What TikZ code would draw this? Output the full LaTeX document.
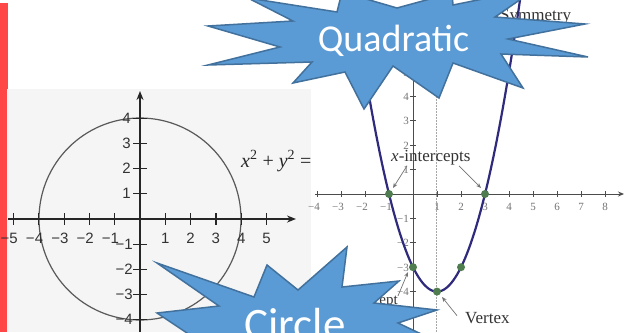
\documentclass[tikz,border=0pt]{standalone}
\usepackage{fontspec}
\setmainfont{Liberation Serif}
\setsansfont{Liberation Sans}
\newfontfamily\starfont{Carlito}
\usetikzlibrary{arrows.meta}
\definecolor{starfill}{RGB}{91,155,213}
\definecolor{starline}{RGB}{65,113,156}
\definecolor{redbar}{RGB}{255,71,71}
\definecolor{panelgray}{RGB}{245,245,245}
\definecolor{navy}{RGB}{48,42,125}
\definecolor{dotgreen}{RGB}{80,125,80}
\begin{document}
\begin{tikzpicture}[x=1pt,y=-1pt,
  star/.style={fill=starfill, draw=starline, line width=1.5pt, line join=miter},
  startext/.style={text=white, inner sep=0pt, anchor=base},
  circlab/.style={font=\sffamily\fontsize{15}{15}\selectfont, text=black!80, inner sep=0pt},
  axisC/.style={line width=1.6pt, black!85},
  tickC/.style={line width=1.2pt, black!85},
  circline/.style={line width=1.2pt, black!65},
  parlab/.style={font=\fontsize{11}{11}\selectfont, text=black!55, inner sep=0pt},
  axisP/.style={line width=0.9pt, black!70},
  note/.style={font=\fontsize{17}{17}\selectfont, text=black!80, inner sep=0pt},
  notearrow/.style={-{Stealth[length=5pt,width=4pt]}, black!55, line width=0.7pt},
  gdot/.style={circle, fill=dotgreen, minimum size=8pt, inner sep=0pt},
]
\useasboundingbox (0,0) rectangle (631,332);
\clip (0,0) rectangle (631,332);
\fill[white] (0,0) rectangle (631,332);

% ---------- circle panel ----------
\fill[panelgray] (7,89) rectangle (311,332);
\fill[redbar] (0,3) rectangle (8,89);
\fill[redbar] (0,89) rectangle (7,332);

\draw[circline] (140,219) circle[radius=101pt];
\draw[axisC, -{Stealth[length=9pt,width=7pt]}] (8,219) -- (296,219);
\draw[axisC, -{Stealth[length=9pt,width=7pt]}] (140,332) -- (140,91);
\foreach \i in {-5,-4,-3,-2,-1,1,2,3,4,5}
  \draw[tickC] ({140+25.3*\i},213) -- ({140+25.3*\i},225);
\foreach \j in {-4,-3,-2,-1,1,2,3,4}
  \draw[tickC] (133,{219-25.2*\j}) -- (147,{219-25.2*\j});
\foreach \i in {1,...,5}{
  \node[circlab, anchor=base] (cxp\i) at ({140+25.3*\i},243) {\i};
  \node[circlab, anchor=base east] (cxn\i) at ({140-25.3*\i+4.5},243) {−\i};
}
\foreach \j in {1,...,4}{
  \node[circlab, anchor=base east] (cyp\j) at (131,{219-25.2*\j+5}) {\j};
  \node[circlab, anchor=base east] (cyn\j) at (133,{219+25.2*\j+5}) {−\j};
}
\node[font=\fontsize{20}{20}\selectfont, anchor=base west, inner sep=0pt, text=black!85] (eqn) at (241,167) {\textit{x}\textsuperscript{2} + \textit{y}\textsuperscript{2} = 16};

% ---------- parabola panel ----------
\fill[white] (311,0) rectangle (631,332);
\draw[black!35, dash pattern=on 1.5pt off 1.5pt, line width=0.6pt] (436,0) -- (436,332);
\draw[axisP, -{Stealth[length=6pt,width=5pt]}] (315,194) -- (624,194);
\draw[axisP, -{Stealth[length=6pt,width=5pt]}] (413,332) -- (413,30);
\foreach \i in {-4,-3,-2,-1,1,2,3,4,5,6,7,8}
  \draw[axisP] ({413+24*\i},191) -- ({413+24*\i},197);
\foreach \j in {-5,-4,-3,-2,-1,1,2,3,4,5}
  \draw[axisP] (410,{194-24.4*\j}) -- (416,{194-24.4*\j});
\foreach \i in {1,...,8}
  \node[parlab, anchor=base] (pxp\i) at ({413+24*\i},210) {\i};
\foreach \i in {1,...,4}
  \node[parlab, anchor=base east] (pxn\i) at ({413-24*\i+3},210) {−\i};
\foreach \j in {1,...,5}{
  \node[parlab, anchor=base east] (pyp\j) at (409,{194-24.4*\j+4}) {\j};
  \node[parlab, anchor=base east] (pyn\j) at (409,{194+24.4*\j+4}) {−\j};
}
\draw[navy, line width=2.2pt] plot[domain=-2.55:4.55, samples=90, smooth] ({413+24*\x},{194-24.4*((\x-1)^2-4)});

\node[gdot] (ptA) at (389,194) {};
\node[gdot] (ptB) at (485,194) {};
\node[gdot] (ptC) at (413,267.2) {};
\node[gdot] (ptD) at (461,267.2) {};
\node[gdot] (ptV) at (437,291.6) {};

\node[note, anchor=base west] (xint) at (391,161) {\textit{x}-intercepts};
\node[note, anchor=base west] (vtx) at (465,323) {Vertex};
\node[note, anchor=base east, font=\fontsize{15}{15}\selectfont] (yint) at (398,304) {\textit{y}-intercept};
\node[note, anchor=base west] (sym) at (500,20) {Symmetry};

\coordinate (aA) at (393,188);
\coordinate (aB) at (481,188);
\coordinate (aV) at (442,297);
\coordinate (aC) at (408,272);
\draw[notearrow] ([xshift=16pt,yshift=-1pt]xint.south west) -- (aA);
\draw[notearrow] ([xshift=68pt,yshift=-1pt]xint.south west) -- (aB);
\draw[notearrow] ([xshift=-8pt,yshift=-4pt]vtx.north west) -- (aV);
\draw[notearrow] ([yshift=-2pt]yint.north east) -- (aC);

% ---------- stars ----------
\draw[star] (208,26) -- (293,21) -- (248,-2) -- (337,12) -- (342,-8) -- (397,8)
  -- (452,-7) -- (453,5) -- (537,-12) -- (495,17) -- (585,24) -- (508,39)
  -- (588,57) -- (501,54) -- (523,88) -- (453,63) -- (439,98) -- (393,66)
  -- (364,109) -- (345,72) -- (293,83) -- (312,62) -- (208,65) -- (280,47) -- cycle;
\node[startext, font=\starfont\fontsize{38}{40}\selectfont] (qtext) at (393.5,51) {Quadratic};

\draw[star] (157,263) -- (254,297) -- (267,265) -- (298,290) -- (347,247)
  -- (342,287) -- (399,281) -- (374,303) -- (437,310) -- (398,323)
  -- (455,350) -- (380,345) -- (300,380) -- (205,345) -- (157,313)
  -- (219,306) -- cycle;
\node[startext, font=\starfont\fontsize{45}{48}\selectfont] (ctext) at (295,339) {Circle};
\end{tikzpicture}
\end{document}
